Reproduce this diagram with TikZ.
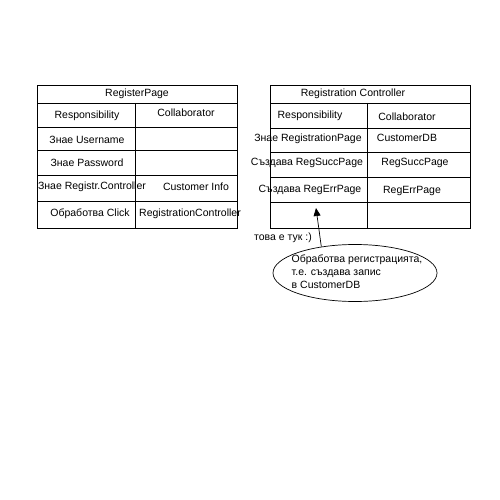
\documentclass[tikz,border=0pt]{standalone}
\usepackage{fontspec}
\setmainfont{Liberation Sans}
\usetikzlibrary{shapes.geometric,arrows.meta}

\begin{document}
\begin{tikzpicture}[x=1pt,y=-1pt,font=\fontsize{10.5}{13}\selectfont]

\tikzstyle{card}=[draw=black,line width=0.7pt]
\tikzstyle{cell}=[inner sep=0pt]
\tikzstyle{note}=[ellipse,draw=black,line width=0.7pt,minimum width=164pt,minimum height=57pt,inner sep=0pt]

\useasboundingbox (0,0) rectangle (500,500);

%RegisterPage card
\draw[card] (37,85) rectangle (237,228);
\foreach \y in {103,127,150,175,201}
  \draw[card] (37,\y) -- (237,\y);
\draw[card] (135,103) -- (135,228);

\node[cell] (rptitle) at (137,94) {RegisterPage};
\node[cell] (rpresp) at (87,116) {Responsibility};
\node[cell] (rpcollab) at (186,113) {Collaborator};
\node[cell] (rpuser) at (87,140) {Знае Username};
\node[cell] (rppass) at (87,163) {Знае Password};
\node[cell] (rpctrl) at (92,187) {Знае Registr.Controller};
\node[cell] (rpinfo) at (196,187) {Customer Info};
\node[cell] (rpclick) at (90,214) {Обработва Click};
\node[cell] (rpregctrl) at (190,214) {RegistrationController};

%Registration Controller card
\draw[card] (270,85) rectangle (470,228);
\foreach \y in {103,128,152,177,202}
  \draw[card] (270,\y) -- (470,\y);
\draw[card] (367,103) -- (367,228);

\node[cell] (rctitle) at (353,94) {Registration Controller};
\node[cell] (rcresp) at (310,116) {Responsibility};
\node[cell] (rccollab) at (407,117) {Collaborator};
\node[cell] (rcpage) at (308,139) {Знае RegistrationPage};
\node[cell] (rcdb) at (407,138) {CustomerDB};
\node[cell] (rcsucc) at (307,163) {Създава RegSuccPage};
\node[cell] (rcsuccpage) at (415,163) {RegSuccPage};
\node[cell] (rcerr) at (310,190) {Създава RegErrPage};
\node[cell] (rcerrpage) at (412,191) {RegErrPage};

% note
\node[cell] (herelabel) at (283,238) {това е тук :)};
\node[note] (note) at (355,273) {};
\node[cell,align=left] (notetext) at (357,272) {Обработва регистрацията,\\т.е. създава запис\\в CustomerDB};
\coordinate (here) at (316,208);
\draw[card,-{Triangle[length=8pt,width=7pt]}] (note.142) -- (here);

\end{tikzpicture}
\end{document}
